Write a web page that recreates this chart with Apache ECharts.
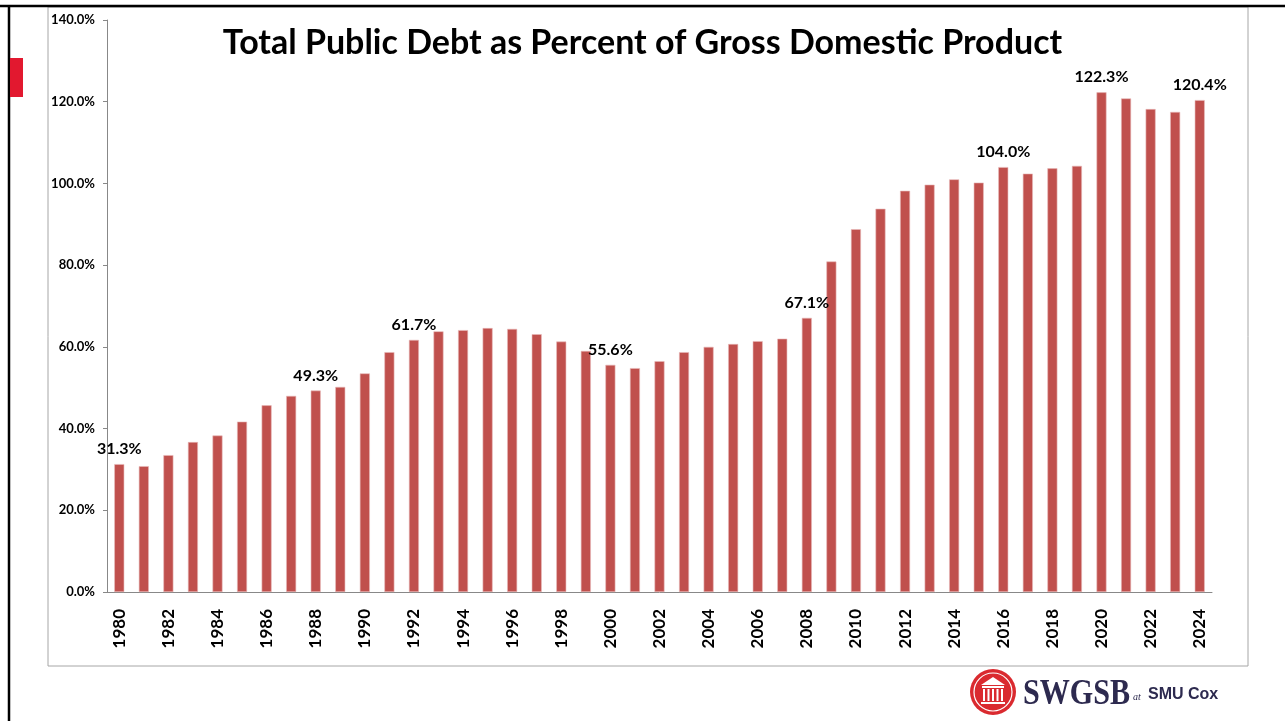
<!DOCTYPE html>
<html>
<head>
<meta charset="utf-8">
<script src="https://cdn.jsdelivr.net/npm/echarts@6/dist/echarts.min.js"></script>
<style>
html,body{margin:0;padding:0;background:#fff;}
#chart{width:1285px;height:721px;}
</style>
</head>
<body>
<div id="chart"></div>
<script>
const years = [1980,1981,1982,1983,1984,1985,1986,1987,1988,1989,1990,1991,1992,1993,1994,1995,1996,1997,1998,1999,2000,2001,2002,2003,2004,2005,2006,2007,2008,2009,2010,2011,2012,2013,2014,2015,2016,2017,2018,2019,2020,2021,2022,2023,2024];
const debtPct = [31.3,30.8,33.5,36.7,38.3,41.7,45.7,48.0,49.3,50.2,53.5,58.7,61.7,63.8,64.1,64.6,64.4,63.1,61.3,59.0,55.6,54.8,56.5,58.7,60.0,60.7,61.4,62.0,67.1,80.9,88.8,93.8,98.2,99.7,101.0,100.2,104.0,102.4,103.7,104.3,122.3,120.8,118.2,117.5,120.4];
const labeledYears = [1980,1988,1992,2000,2008,2016,2020,2024];
const yTicks = [0,20,40,60,80,100,120,140];
const titleText = 'Total Public Debt as Percent of Gross Domestic Product';

const chart = echarts.init(document.getElementById('chart'), null, {renderer:'canvas'});
const FONT = 'Lato, "Open Sans", sans-serif';

const barData = years.map((y, i) => ({
  value: debtPct[i],
  label: { show: labeledYears.includes(y) }
}));

chart.setOption({
  animation: false,
  backgroundColor: '#ffffff',
  title: {
    text: titleText,
    left: 'center',
    top: 21,
    textStyle: { fontFamily: FONT, fontWeight: 'bold', fontSize: 34, color: '#000' }
  },
  grid: { left: 107, right: 73, top: 20, bottom: 129, containLabel: false },
  xAxis: {
    type: 'category',
    data: years.map(String),
    axisLine: { show: true, lineStyle: { color: '#888', width: 1 } },
    axisTick: { show: false },
    axisLabel: {
      interval: 1,
      rotate: 90,
      margin: 17,
      fontFamily: FONT, fontWeight: 'bold', fontSize: 17, color: '#000'
    }
  },
  yAxis: {
    type: 'value',
    min: yTicks[0],
    max: yTicks[yTicks.length - 1],
    interval: yTicks[1] - yTicks[0],
    splitLine: { show: false },
    axisLine: { show: true, lineStyle: { color: '#888', width: 1 } },
    axisTick: { show: true, inside: false, length: 4, lineStyle: { color: '#888' } },
    axisLabel: {
      margin: 12,
      formatter: v => v.toFixed(1) + '%',
      fontFamily: FONT, fontWeight: 'bold', fontSize: 13, color: '#000'
    }
  },
  series: [{
    type: 'bar',
    data: barData,
    barWidth: 10,
    itemStyle: { color: '#C0504D', borderColor: '#e8b9b8', borderWidth: 0.6 },
    label: {
      position: 'top',
      distance: 7,
      formatter: p => p.value.toFixed(1) + '%',
      fontFamily: FONT, fontWeight: 'bold', fontSize: 16, color: '#000'
    }
  }],
  graphic: [
    { type: 'line', shape: { x1: 0, y1: 6, x2: 1285, y2: 6 }, style: { stroke: '#000', lineWidth: 2.5 } },
    { type: 'line', shape: { x1: 9, y1: 6, x2: 9, y2: 721 }, style: { stroke: '#000', lineWidth: 2.5 } },
    { type: 'rect', shape: { x: 10, y: 58, width: 13, height: 39 }, style: { fill: '#E2182F' } },
    { type: 'rect', shape: { x: 48, y: 7, width: 1200, height: 659 }, style: { fill: 'none', stroke: '#a6a6a6', lineWidth: 1 }, z: -1 },
    {
      type: 'group', left: 970, top: 669,
      children: [
        { type: 'circle', shape: { cx: 25, cy: 23, r: 23 }, style: { fill: '#DA2A2F' } },
        { type: 'circle', shape: { cx: 25, cy: 23, r: 19 }, style: { fill: 'none', stroke: '#fff', lineWidth: 1.2 } },
        { type: 'polygon', shape: { points: [[13,16],[25,8],[37,16]] }, style: { fill: '#fff' } },
        { type: 'rect', shape: { x: 14, y: 17, width: 22, height: 2 }, style: { fill: '#fff' } },
        { type: 'rect', shape: { x: 15, y: 20, width: 2, height: 12 }, style: { fill: '#fff' } },
        { type: 'rect', shape: { x: 19.5, y: 20, width: 2, height: 12 }, style: { fill: '#fff' } },
        { type: 'rect', shape: { x: 24, y: 20, width: 2, height: 12 }, style: { fill: '#fff' } },
        { type: 'rect', shape: { x: 28.5, y: 20, width: 2, height: 12 }, style: { fill: '#fff' } },
        { type: 'rect', shape: { x: 33, y: 20, width: 2, height: 12 }, style: { fill: '#fff' } },
        { type: 'rect', shape: { x: 13, y: 33, width: 24, height: 2 }, style: { fill: '#fff' } },
        { type: 'text', x: 55, y: 26, scaleX: 0.86, style: { x: 0, y: 0, text: 'SWGSB', font: 'bold 35px "Liberation Serif", "DejaVu Serif", serif', fill: '#2d2a4f', verticalAlign: 'middle', align: 'left' } },
        { type: 'text', x: 165, y: 28, style: { x: 0, y: 0, text: 'at', font: 'italic 10px "Liberation Serif", serif', fill: '#2d2a4f', verticalAlign: 'middle', align: 'left' } },
        { type: 'text', x: 180, y: 26, style: { x: 0, y: 0, text: 'SMU', font: 'bold 16px "Liberation Sans", Arial, sans-serif', fill: '#2d2a4f', verticalAlign: 'middle', align: 'left' } },
        { type: 'text', x: 220, y: 26, style: { x: 0, y: 0, text: 'Cox', font: 'bold 16px "Liberation Sans", Arial, sans-serif', fill: '#2d2a4f', verticalAlign: 'middle', align: 'left' } }
      ]
    }
  ]
});
</script>
</body>
</html>
